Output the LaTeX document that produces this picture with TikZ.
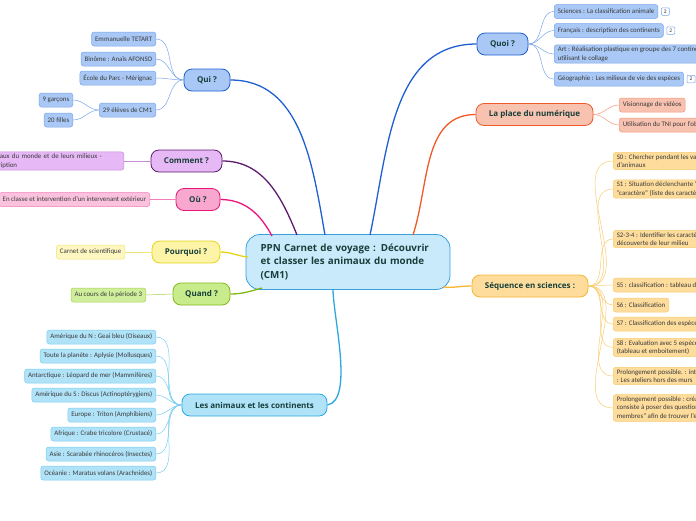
\documentclass[tikz,border=0pt]{standalone}
\usepackage{fontspec}
\setmainfont{Carlito}
\newfontfamily\headfont{Open Sans}
\usetikzlibrary{positioning}

\definecolor{headtext}{HTML}{173F3A}
\definecolor{leaftext}{HTML}{3A3A3A}
\definecolor{ppnfill}{HTML}{C8EAFB}
\definecolor{ppnline}{HTML}{3AA0DC}
\definecolor{quifill}{HTML}{A9C8F5}
\definecolor{quiline}{HTML}{1F5FD1}
\definecolor{quisoft}{HTML}{7AA5EA}
\definecolor{comfill}{HTML}{E6B8F5}
\definecolor{comline}{HTML}{5E1B6E}
\definecolor{comsoft}{HTML}{C58CD6}
\definecolor{oufill}{HTML}{F8A8CF}
\definecolor{ouline}{HTML}{EC137A}
\definecolor{ousoft}{HTML}{F47CB8}
\definecolor{pqfill}{HTML}{FDF4A8}
\definecolor{pqline}{HTML}{E6D41A}
\definecolor{pqsoft}{HTML}{F0E47A}
\definecolor{qdfill}{HTML}{C8EC8C}
\definecolor{qdline}{HTML}{84B81A}
\definecolor{qdsoft}{HTML}{A8D050}
\definecolor{anfill}{HTML}{B0E2F8}
\definecolor{anline}{HTML}{2AA8E0}
\definecolor{ansoft}{HTML}{78CCF2}
\definecolor{plfill}{HTML}{F8C2B0}
\definecolor{plline}{HTML}{F05A28}
\definecolor{plsoft}{HTML}{F4967A}
\definecolor{sqfill}{HTML}{FDDC9C}
\definecolor{sqline}{HTML}{F6B434}
\definecolor{sqsoft}{HTML}{F8CC70}

\tikzset{
	centre/.style={draw=ppnline, fill=ppnfill, line width=0.8pt, rounded corners=14pt, text=headtext, font=\headfont\bfseries\fontsize{9.8}{13.5}\selectfont, align=left, text width=175pt, minimum height=55pt, inner xsep=14.5pt},
	branch/.style={line width=0.8pt, rounded corners=8pt, text=headtext, font=\headfont\bfseries\fontsize{8}{9.5}\selectfont, minimum height=22pt, inner xsep=4pt},
	leaf/.style={line width=0.5pt, rounded corners=2.5pt, text=leaftext, font=\fontsize{6.9}{8.4}\selectfont, align=left, minimum height=14pt, inner xsep=3.5pt, inner ysep=2pt},
	badge/.style={draw=quisoft, fill=white, line width=0.5pt, rounded corners=1pt, font=\fontsize{5.5}{5.5}\selectfont, text=leaftext, inner sep=1pt, minimum width=8pt, minimum height=7.5pt},
	trunk/.style={line width=1.3pt},
	twig/.style={line width=0.5pt},
}

\begin{document}
\begin{tikzpicture}[x=1pt,y=-1pt]
	\useasboundingbox (0,0) rectangle (696,520);

	% centre
	\node[centre] (ppn) at (348,262) {PPN Carnet de voyage : Découvrir\\et classer les animaux du monde\\(CM1)};

	% Qui ?
	\node[branch, draw=quiline, fill=quifill, minimum width=46pt] (qui) at (207,80) {Qui ?};
	\node[leaf, draw=quisoft, fill=quifill, anchor=east] (tetart) at (156,39) {Emmanuelle TETART};
	\node[leaf, draw=quisoft, fill=quifill, anchor=east] (binome) at (156,59) {Binôme : Anaïs AFONSO};
	\node[leaf, draw=quisoft, fill=quifill, anchor=east] (ecole) at (156,78) {École du Parc - Mérignac};
	\node[leaf, draw=quisoft, fill=quifill, anchor=east] (eleves) at (156,110) {29 élèves de CM1};
	\node[leaf, draw=quisoft, fill=quifill, anchor=east] (garcons) at (73,100) {9 garçons};
	\node[leaf, draw=quisoft, fill=quifill, anchor=east] (filles) at (73,120) {20 filles};
	\foreach \n in {tetart,binome,ecole,eleves}
		\draw[twig, quisoft] (qui.west) to[out=180,in=0] (\n.east);
	\foreach \n in {garcons,filles}
		\draw[twig, quisoft] (eleves.west) to[out=180,in=0] (\n.east);
	\draw[trunk, quiline] (325,235) to[out=100,in=0] (qui.east);

	% Comment ?
	\node[branch, draw=comline, fill=comfill, minimum width=71pt] (comment) at (186.5,161) {Comment ?};
	\node[leaf, draw=comsoft, fill=comfill, anchor=east, text width=134.5pt] (milieux) at (124,161) {animaux du monde et de leurs milieux -\\description};
	\draw[twig, comsoft] (comment.west) -- (milieux.east);
	\draw[trunk, comline] (297,235) to[out=112,in=0] (comment.east);

	% Où ?
	\node[branch, draw=ouline, fill=oufill, minimum width=44pt] (ou) at (198,199.5) {Où ?};
	\node[leaf, draw=ousoft, fill=oufill!70!white, anchor=east] (classe) at (150,199.5) {En classe et intervention d'un intervenant extérieur};
	\draw[twig, ousoft] (ou.west) -- (classe.east);
	\draw[trunk, ouline] (272,236) to[out=118,in=0] (ou.east);

	% Pourquoi ?
	\node[branch, draw=pqline, fill=pqfill, minimum width=68pt] (pourquoi) at (186,252) {Pourquoi ?};
	\node[leaf, draw=pqsoft, fill=pqfill!70!white, anchor=east] (carnet) at (125,252) {Carnet de scientifique};
	\draw[twig, pqsoft] (pourquoi.west) -- (carnet.east);
	\draw[trunk, pqline] (248,257) to[out=175,in=0] (pourquoi.east);

	% Quand ?
	\node[branch, draw=qdline, fill=qdfill, minimum width=57pt] (quand) at (201.5,294) {Quand ?};
	\node[leaf, draw=qdsoft, fill=qdfill!85!white, anchor=east] (periode) at (146,295) {Au cours de la période 3};
	\draw[twig, qdsoft] (quand.west) -- (periode.east);
	\draw[trunk, qdline] (262,288) to[out=195,in=0] (quand.east);

	% Les animaux et les continents
	\node[branch, draw=anline, fill=anfill, minimum width=145pt] (animaux) at (254.5,405) {Les animaux et les continents};
	\node[leaf, draw=ansoft, fill=anfill, anchor=east] (nord) at (156,337) {Amérique du N : Geai bleu (Oiseaux)};
	\node[leaf, draw=ansoft, fill=anfill, anchor=east] (planete) at (156,356) {Toute la planète : Aplysie (Mollusques)};
	\node[leaf, draw=ansoft, fill=anfill, anchor=east] (antarctique) at (156,376) {Antarctique : Léopard de mer (Mammifères)};
	\node[leaf, draw=ansoft, fill=anfill, anchor=east] (sud) at (156,395) {Amérique du S : Discus (Actinoptérygiens)};
	\node[leaf, draw=ansoft, fill=anfill, anchor=east] (europe) at (156,415) {Europe : Triton (Amphibiens)};
	\node[leaf, draw=ansoft, fill=anfill, anchor=east] (afrique) at (156,434) {Afrique : Crabe tricolore (Crustacé)};
	\node[leaf, draw=ansoft, fill=anfill, anchor=east] (asie) at (156,454) {Asie : Scarabée rhinocéros (Insectes)};
	\node[leaf, draw=ansoft, fill=anfill, anchor=east] (oceanie) at (156,473) {Océanie : Maratus volans (Arachnides)};
	\foreach \n in {nord,planete,antarctique,sud,europe,afrique,asie,oceanie}
		\draw[twig, ansoft] (animaux.west) to[out=180,in=0] (\n.east);
	\draw[trunk, anline] (333,289) to[out=-90,in=10,looseness=0.6] (animaux.east);

	% Quoi ?
	\node[branch, draw=quiline, fill=quifill, minimum width=51pt] (quoi) at (502.5,44) {Quoi ?};
	\node[leaf, draw=quisoft, fill=quifill, anchor=west] (sciences) at (554,11.5) {Sciences : La classification animale};
	\node[leaf, draw=quisoft, fill=quifill, anchor=west] (francais) at (554,30.5) {Français : description des continents};
	\node[leaf, draw=quisoft, fill=quifill, anchor=west] (art) at (554,54) {Art : Réalisation plastique en groupe des 7 continents en\\utilisant le collage};
	\node[leaf, draw=quisoft, fill=quifill, anchor=west] (geo) at (554,79) {Géographie : Les milieux de vie des espèces};
	\node[badge, right=3pt of sciences] {2};
	\node[badge, right=3pt of francais] {2};
	\node[badge, right=3pt of geo] {2};
	\foreach \n in {sciences,francais,art,geo}
		\draw[twig, quisoft] (quoi.east) to[out=0,in=180] (\n.west);
	\draw[trunk, quiline] (370,235) to[out=78,in=180] (quoi.west);

	% La place du numérique
	\node[branch, draw=plline, fill=plfill, minimum width=117pt] (place) at (534.5,114.5) {La place du numérique};
	\node[leaf, draw=plsoft, fill=plfill, anchor=west] (videos) at (619,105) {Visionnage de vidéos};
	\node[leaf, draw=plsoft, fill=plfill, anchor=west] (tni) at (619,125) {Utilisation du TNI pour l'observation};
	\foreach \n in {videos,tni}
		\draw[twig, plsoft] (place.east) to[out=0,in=180] (\n.west);
	\draw[trunk, plline] (413,235) to[out=72,in=180] (place.west);

	% Séquence en sciences
	\node[branch, draw=sqline, fill=sqfill, minimum width=116pt] (sequence) at (530,286) {Séquence en sciences :};
	\node[leaf, draw=sqsoft, fill=sqfill, anchor=west] (s0) at (613,161) {S0 : Chercher pendant les vacances\\d'animaux};
	\node[leaf, draw=sqsoft, fill=sqfill, anchor=west] (s1) at (613,189) {S1 : Situation déclenchante "\hspace{12pt}\\"caractère" (liste des caractères)};
	\node[leaf, draw=sqsoft, fill=sqfill, anchor=west] (s234) at (613,239) {S2-3-4 : Identifier les caractères\\découverte de leur milieu};
	\node[leaf, draw=sqsoft, fill=sqfill, anchor=west] (s5) at (613,285) {S5 : classification : tableau de};
	\node[leaf, draw=sqsoft, fill=sqfill, anchor=west] (s6) at (613,305) {S6 : Classification};
	\node[leaf, draw=sqsoft, fill=sqfill, anchor=west] (s7) at (613,324) {S7 : Classification des espèces};
	\node[leaf, draw=sqsoft, fill=sqfill, anchor=west] (s8) at (613,347.5) {S8 : Evaluation avec 5 espèces\\(tableau et emboitement)};
	\node[leaf, draw=sqsoft, fill=sqfill, anchor=west] (prolonga) at (613,376) {Prolongement possible. : intervention\\: Les ateliers hors des murs};
	\node[leaf, draw=sqsoft, fill=sqfill, anchor=west] (prolongb) at (613,408) {Prolongement possible : création\\consiste à poser des questions\\membres" afin de trouver l'espèce};
	\foreach \n in {s0,s1,s234,s5,s6,s7,s8,prolonga,prolongb}
		\draw[twig, sqsoft] (sequence.east) to[out=0,in=180] (\n.west);
	\draw[trunk, sqline] (443,287) to[out=-5,in=180] (sequence.west);
\end{tikzpicture}
\end{document}
